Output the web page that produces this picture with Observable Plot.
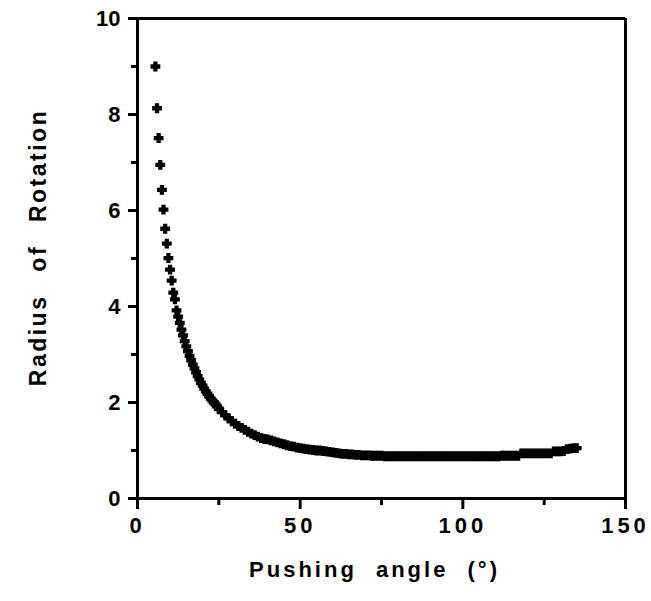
<!DOCTYPE html>
<html>
<head>
<meta charset="utf-8">
<script src="https://cdn.jsdelivr.net/npm/d3@7"></script>
<script src="https://cdn.jsdelivr.net/npm/@observablehq/plot@0.6"></script>
<style>
  html, body { margin: 0; padding: 0; background: #fff; }
  #chart svg { display: block; font-family: 'Liberation Sans', Arial, Helvetica, sans-serif; font-weight: bold; color: #000; background: #fff; }
</style>
</head>
<body>
<div id="chart"></div>
<script>
// Pushing angle (degrees)
const angle = [
  5.5, 6, 6.5, 7, 7.5, 8, 8.5, 9, 9.5, 10, 10.5, 11, 11.5, 12, 12.5,
  13, 13.5, 14, 14.5, 15, 15.5, 16, 16.5, 17, 17.5, 18, 18.5, 19, 19.5, 20,
  20.5, 21, 21.5, 22, 22.5, 23, 23.5, 24, 24.5, 25,
  26, 27, 28, 29, 30, 31, 32, 33, 34, 35, 36, 37, 38, 39, 40,
  41, 42, 43, 44, 45, 46, 47, 48, 49, 50, 51, 52, 53, 54, 55,
  56, 57, 58, 59, 60, 61, 62, 63, 64, 65, 66, 67, 68, 69, 70,
  71, 72, 73, 74, 75, 76, 77, 78, 79, 80, 81, 82, 83, 84, 85,
  86, 87, 88, 89, 90, 91, 92, 93, 94, 95, 96, 97, 98, 99, 100,
  101, 102, 103, 104, 105, 106, 107, 108, 109, 110, 111, 112, 113, 114, 115,
  116, 117, 118, 119, 120, 121, 122, 123, 124, 125, 126, 127, 128, 129, 130,
  131, 132, 133, 134, 135
];
// Radius of rotation
const radius = [
  9.00, 8.13, 7.51, 6.95, 6.43, 6.02, 5.62, 5.31, 5.01, 4.77, 4.54, 4.29, 4.15, 3.92, 3.79,
  3.66, 3.52, 3.40, 3.28, 3.17, 3.07, 2.97, 2.88, 2.79, 2.71, 2.63, 2.55, 2.48, 2.41, 2.35,
  2.29, 2.23, 2.18, 2.13, 2.08, 2.04, 2.00, 1.96, 1.92, 1.87,
  1.80, 1.73, 1.67, 1.61, 1.56, 1.51, 1.47, 1.43, 1.39, 1.35, 1.32, 1.29, 1.26, 1.24, 1.23,
  1.21, 1.19, 1.17, 1.15, 1.13, 1.11, 1.09, 1.08, 1.06, 1.05, 1.04, 1.03, 1.02, 1.01, 1.00,
  1.00, 0.99, 0.98, 0.97, 0.96, 0.95, 0.94, 0.93, 0.93, 0.92, 0.92, 0.91, 0.91, 0.90, 0.90,
  0.90, 0.89, 0.89, 0.89, 0.89, 0.88, 0.88, 0.88, 0.88, 0.88, 0.88, 0.88, 0.88, 0.88, 0.88,
  0.88, 0.88, 0.88, 0.88, 0.88, 0.88, 0.88, 0.88, 0.88, 0.88, 0.88, 0.88, 0.88, 0.88, 0.88,
  0.88, 0.88, 0.88, 0.88, 0.88, 0.88, 0.88, 0.88, 0.88, 0.88, 0.88, 0.89, 0.89, 0.89, 0.89,
  0.89, 0.89, 0.94, 0.94, 0.94, 0.94, 0.94, 0.94, 0.94, 0.94, 0.94, 0.94, 0.98, 0.98, 0.98,
  0.99, 1.03, 1.04, 1.05, 1.05
];

const xTicks = [0, 50, 100, 150];
const xMinorTicks = [25, 75, 125];
const yTicks = [0, 2, 4, 6, 8, 10];
const yMinorTicks = [1, 3, 5, 7, 9];
const xTitle = "Pushing angle (°)";
const yTitle = "Radius of Rotation";
const xDomain = [0, 150];
const yDomain = [0, 10];

const data = angle.map((a, i) => ({angle: a, radius: radius[i]}));

const chart = Plot.plot({
  width: 651,
  height: 601,
  marginLeft: 137,
  marginRight: 26,
  marginTop: 18,
  marginBottom: 103,
  x: {domain: xDomain},
  y: {domain: yDomain},
  marks: [
    Plot.axisX(xTicks, {tickSize: 11, stroke: "#000", strokeWidth: 3, tickPadding: 8, fontSize: 22, fontWeight: "bold", label: null}),
    Plot.axisX(xMinorTicks, {tickSize: 7, stroke: "#000", strokeWidth: 3, text: null, label: null}),
    Plot.axisY(yTicks, {tickSize: 9, stroke: "#000", strokeWidth: 3, tickPadding: 8, fontSize: 22, fontWeight: "bold", label: null}),
    Plot.axisY(yMinorTicks, {tickSize: 6, stroke: "#000", strokeWidth: 3, text: null, label: null}),
    Plot.ruleX(xDomain, {stroke: "#000", strokeWidth: 3}),
    Plot.ruleY(yDomain, {stroke: "#000", strokeWidth: 3}),
    Plot.dot(data, {x: "angle", y: "radius", symbol: "cross", r: 3.5, fill: "#000", stroke: "#000", strokeWidth: 1.5}),
    Plot.text([xTitle], {frameAnchor: "bottom", dx: -7, dy: 78, fontSize: 22, fontWeight: "bold", fill: "#000"}),
    Plot.text([yTitle], {frameAnchor: "left", textAnchor: "middle", dx: -99, dy: -11, rotate: -90, fontSize: 23, fontWeight: "bold", fill: "#000"})
  ]
});

const svg = d3.select(chart);
svg.selectAll('g[aria-label="x-axis tick label"] text').style("letter-spacing", "4px");
svg.selectAll("text").filter(function () { return this.textContent === xTitle; })
  .style("letter-spacing", "3px").style("word-spacing", "10px");
svg.selectAll("text").filter(function () { return this.textContent === yTitle; })
  .style("letter-spacing", "2.5px").style("word-spacing", "14px");

document.getElementById("chart").appendChild(chart);
</script>
</body>
</html>
